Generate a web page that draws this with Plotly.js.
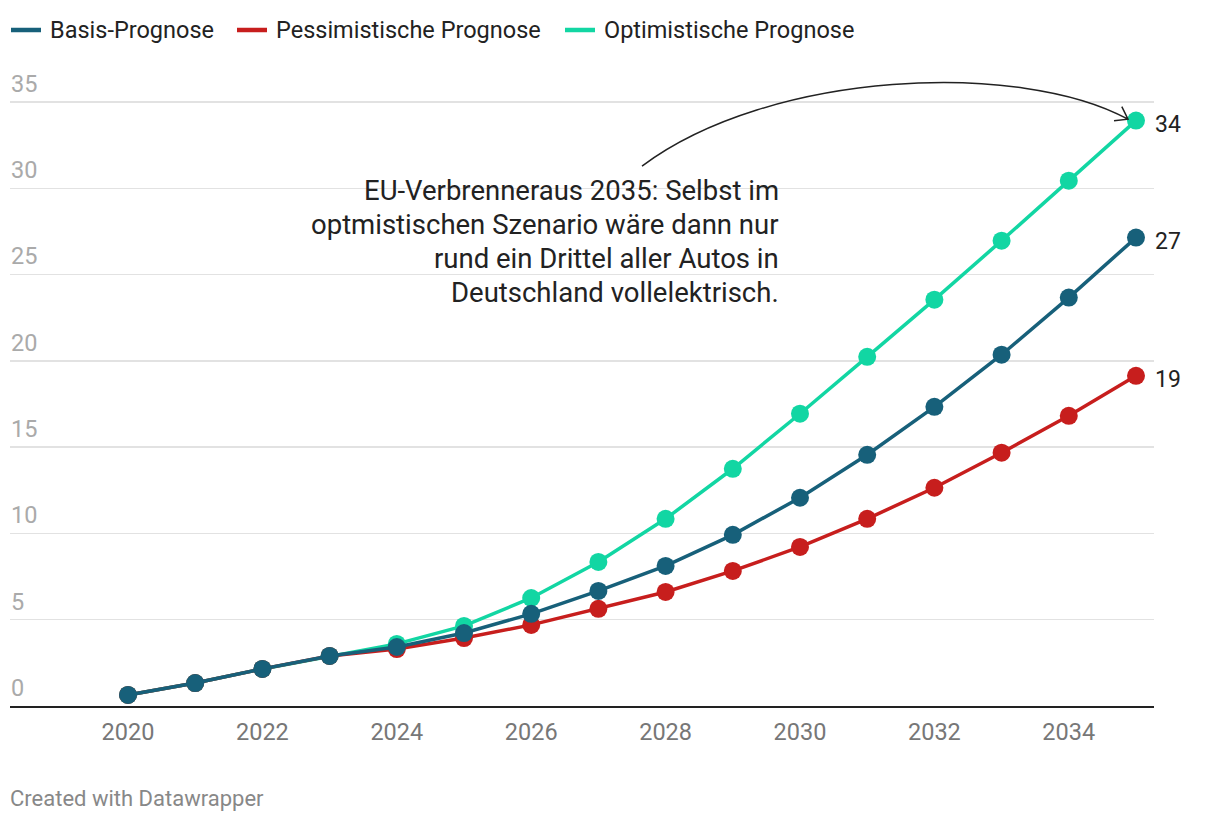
<!DOCTYPE html>
<html><head><meta charset="utf-8">
<script src="https://cdn.plot.ly/plotly-3.0.1.min.js"></script>
<style>html,body{margin:0;padding:0;background:#fff}#chart{width:1220px;height:822px}</style>
</head><body><div id="chart"></div>
<script>
const years = [2020,2021,2022,2023,2024,2025,2026,2027,2028,2029,2030,2031,2032,2033,2034,2035];
const basis = [0.64,1.33,2.15,2.9,3.42,4.23,5.34,6.67,8.12,9.92,12.07,14.56,17.34,20.36,23.67,27.15];
const pessimistic = [0.64,1.33,2.15,2.9,3.3,3.94,4.7,5.63,6.61,7.83,9.22,10.85,12.65,14.68,16.82,19.14];
const optimistic = [0.64,1.33,2.15,2.9,3.6,4.64,6.26,8.35,10.85,13.75,16.94,20.24,23.55,26.97,30.45,33.93];
const seriesNames = ["Basis-Prognose","Pessimistische Prognose","Optimistische Prognose"];
const colors = {basis:"#17607a", pess:"#c71e1d", opt:"#12d6a3"};
const endLabels = ["27","19","34"];
const xTicks = [2020,2022,2024,2026,2028,2030,2032,2034];
const yTicks = [0,5,10,15,20,25,30,35];
const noteLines = ["EU-Verbrenneraus 2035: Selbst im","optmistischen Szenario wäre dann nur","rund ein Drittel aller Autos in","Deutschland vollelektrisch."];
const noteX = 2029.72, noteY = [29.90, 27.93, 25.96, 23.99];
const footer = "Created with Datawrapper";

function tr(y, c, name){
  return {x: years, y: y, mode:"lines+markers", name:name, showlegend:false,
    line:{color:c, width:3.5}, marker:{color:c, size:18}, cliponaxis:false, hoverinfo:"skip"};
}
const data = [
  tr(optimistic, colors.opt, seriesNames[2]),
  tr(pessimistic, colors.pess, seriesNames[1]),
  tr(basis, colors.basis, seriesNames[0])
];
const last = years.length-1;
const annotations = [
  {x:years[last], y:basis[last], text:endLabels[0]},
  {x:years[last], y:pessimistic[last], text:endLabels[1]},
  {x:years[last], y:optimistic[last], text:endLabels[2]}
].map(a=>Object.assign(a,{xref:"x",yref:"y",xanchor:"left",yanchor:"middle",xshift:17,yshift:-4,showarrow:false,font:{family:"Roboto",size:23,color:"#222"}}));
noteLines.forEach((t,i)=>annotations.push({x:noteX,y:noteY[i],xref:"x",yref:"y",text:t,xanchor:"right",yanchor:"middle",showarrow:false,font:{family:"Roboto",size:27.5,color:"#222"}}));
annotations.push({x:0,y:0,xref:"paper",yref:"paper",yshift:-92,xshift:-2,text:footer,xanchor:"left",yanchor:"middle",showarrow:false,font:{family:"Roboto",size:22,color:"#888"}});

// manual legend (positions in px relative to plot's top-left)
const legendColors = [colors.basis, colors.pess, colors.opt];
const legendTextX = [39, 265, 593];
const shapes = [];
seriesNames.forEach((n,i)=>{
  annotations.push({x:0,y:1,xref:"paper",yref:"paper",xshift:legendTextX[i]-1,yshift:29,text:n,xanchor:"left",yanchor:"middle",showarrow:false,font:{family:"Roboto",size:23.5,color:"#222"}});
  shapes.push({type:"line",xref:"paper",yref:"paper",xsizemode:"pixel",ysizemode:"pixel",xanchor:0,yanchor:1,
    x0:legendTextX[i]-38,x1:legendTextX[i]-8,y0:29,y1:29,line:{color:legendColors[i],width:4.5}});
});
const arrowPath = "M 2027.649 31.29 C 2029.554 36.85, 2033.274 37.43, 2034.881 34.01 M 2034.673 33.92 L 2034.881 34.01 L 2034.789 34.74";
shapes.push({type:"path", xref:"x", yref:"y", path:arrowPath, line:{color:"#222", width:1.5}});

const layout = {
  width:1220, height:822,
  margin:{l:10, r:66, t:59, b:116},
  paper_bgcolor:"#fff", plot_bgcolor:"#fff",
  font:{family:"Roboto", color:"#333"},
  showlegend:false,
  xaxis:{range:[2018.244,2035.268], tickvals:xTicks, showgrid:false, zeroline:false,
    showline:true, linecolor:"#222", linewidth:2, ticks:"", tickfont:{family:"Roboto",size:23.5,color:"#777"}, ticklabelstandoff:4},
  yaxis:{range:[0,37.5], tickvals:yTicks, showgrid:true, gridcolor:"#e2e2e2", gridwidth:1.5, zeroline:false,
    showline:false, ticks:"", ticklabelposition:"inside top", ticklabelshift:-2, ticklabelstandoff:-2,
    tickfont:{family:"Roboto",size:23.5,color:"#aaa"}},
  annotations: annotations,
  shapes: shapes
};
Plotly.newPlot("chart", data, layout, {displayModeBar:false, staticPlot:true});
</script></body></html>
